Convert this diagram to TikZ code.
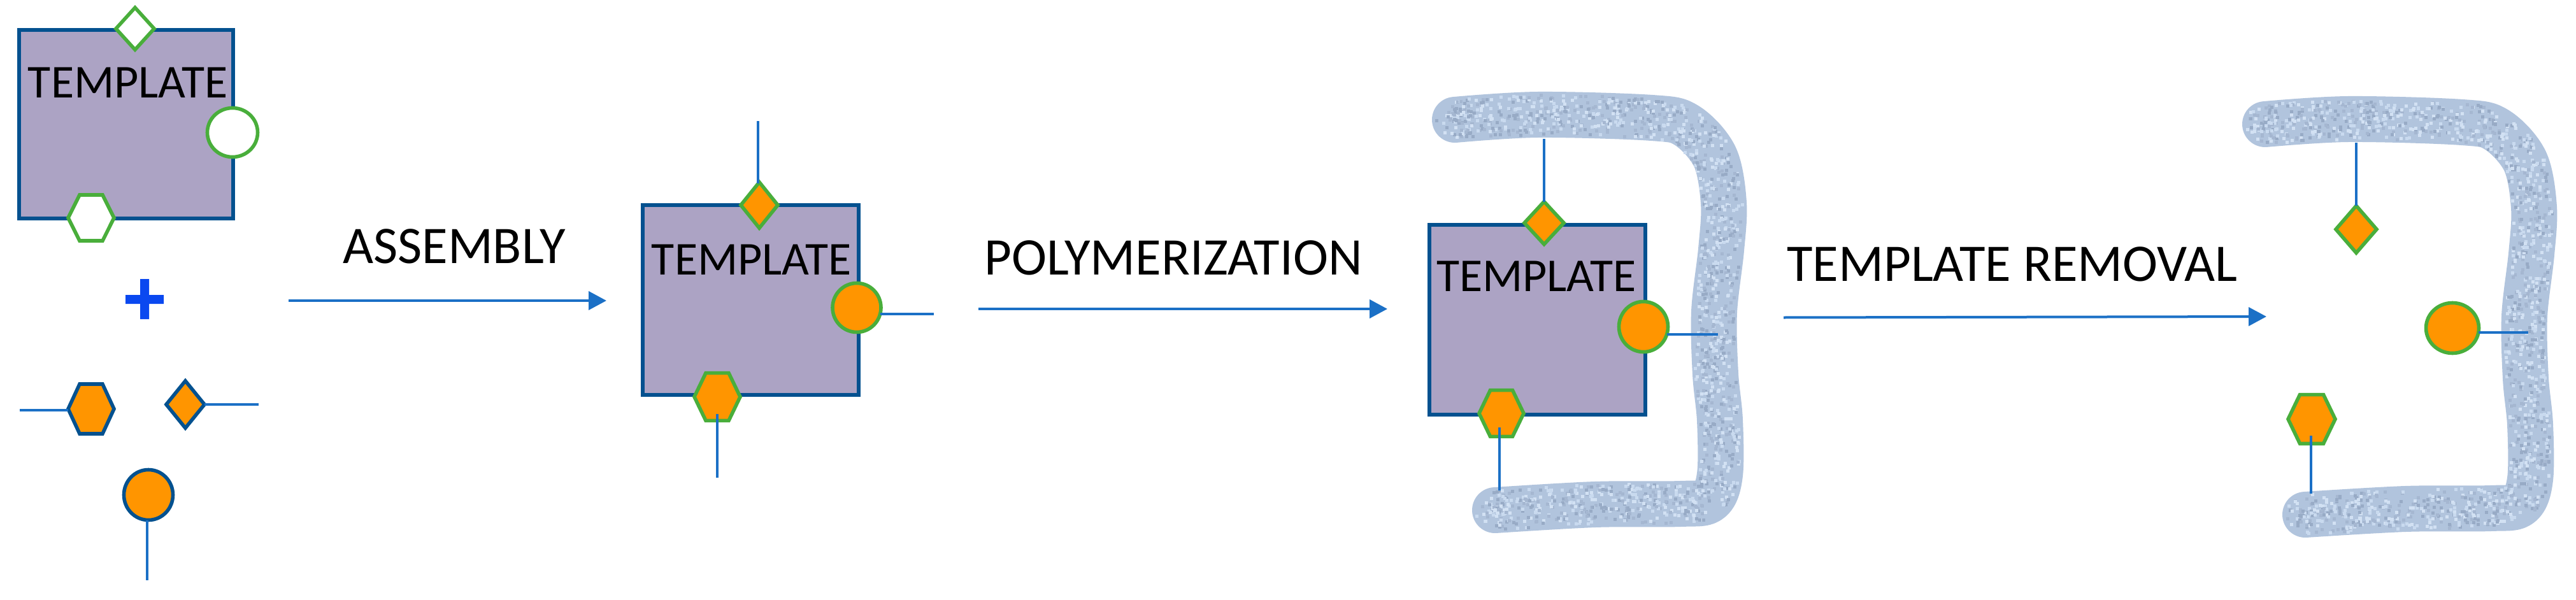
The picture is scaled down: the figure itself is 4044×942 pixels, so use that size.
\documentclass[tikz,border=0pt]{standalone}
\usepackage{fontspec}
\setmainfont{Carlito}
\usetikzlibrary{shapes.geometric,arrows.meta}
\definecolor{tplfill}{HTML}{ACA3C4}
\definecolor{deepblue}{HTML}{04518F}
\definecolor{ringgreen}{HTML}{49AE3B}
\definecolor{monoorange}{HTML}{FF9500}
\definecolor{linkblue}{HTML}{1B70C6}
\definecolor{plusblue}{HTML}{0A48F0}
\definecolor{polybase}{HTML}{B1C4DD}
\definecolor{grainA}{HTML}{98ABC6}
\definecolor{grainB}{HTML}{C9DAEF}
\definecolor{grainC}{HTML}{A5B7D1}
\definecolor{grainD}{HTML}{D2E1F3}
\tikzset{
  tplbox/.style={rectangle,draw=deepblue,fill=tplfill,line width=3pt,inner sep=0pt,outer sep=0pt},
  tpltext/.style={anchor=base,inner sep=0pt,font=\fontsize{37pt}{42pt}\selectfont},
  steplabel/.style={anchor=base,inner sep=0pt,font=\fontsize{41.5pt}{48pt}\selectfont},
  stem/.style={draw=linkblue,line width=2pt},
  stepflow/.style={draw=linkblue,line width=2pt,-{Triangle[length=14pt,width=14.5pt]}},
  greenring/.style={draw=ringgreen,line width=2.8pt,inner sep=0pt,outer sep=0pt},
  bluering/.style={draw=deepblue,line width=2.8pt,inner sep=0pt,outer sep=0pt},
  dia/.style={diamond,inner sep=0pt,outer sep=0pt},
  oval/.style={ellipse,inner sep=0pt,outer sep=0pt},
  hexa/.style={regular polygon,regular polygon sides=6,inner sep=0pt,outer sep=0pt},
  polymer/.style={draw=polybase,line width=36pt,line cap=round,line join=round}
}
\newcommand{\grainsquare}[2]{%
  \pgfmathtruncatemacro\gc{random(0,3)}%
  \ifcase\gc\relax\def\gcol{grainA}\or\def\gcol{grainB}\or\def\gcol{grainC}\or\def\gcol{grainD}\fi
  \fill[\gcol] (#1,#2) rectangle ++(5,5);%
}
\newcommand{\polyshell}{%
  \draw[polymer] plot[smooth,tension=0.55] coordinates {(2284,188) (2414,180) (2593,185) (2648,197) (2692,246) (2706,319) (2702,392) (2691,490) (2693,587) (2700,660) (2700,745) (2684,785) (2638,791) (2504,792) (2347,801)};
  \foreach \x/\y [remember=\x as \lx (initially 2284), remember=\y as \ly (initially 188)] in {2414/180,2593/185,2648/197,2692/246,2706/319,2702/392,2691/490,2693/587,2700/660,2700/745,2684/785,2638/791,2504/792,2347/801}{
    \pgfmathsetmacro\dxx{\x-\lx}
    \pgfmathsetmacro\dyy{\y-\ly}
    \pgfmathsetmacro\len{veclen(\dxx,\dyy)}
    \pgfmathtruncatemacro\cnt{\len*1.1+1}
    \foreach \i in {1,...,\cnt}{
      \pgfmathsetmacro\tt{rnd}
      \pgfmathsetmacro\nn{rand*31}
      \pgfmathsetmacro\px{\lx+\tt*\dxx-\nn*\dyy/\len-2.5}
      \pgfmathsetmacro\py{\ly+\tt*\dyy+\nn*\dxx/\len-2.5}
      \grainsquare{\px}{\py}
    }
  }
  \foreach \cx/\cy in {2284/188,2347/801}{
    \foreach \k in {1,...,50}{
      \pgfmathsetmacro\ga{rand*180}
      \pgfmathsetmacro\gr{rnd*30}
      \pgfmathsetmacro\px{\cx+\gr*cos(\ga)-2.5}
      \pgfmathsetmacro\py{\cy+\gr*sin(\ga)-2.5}
      \grainsquare{\px}{\py}
    }
  }%
}
\begin{document}
\begin{tikzpicture}[x=0.5pt,y=-0.5pt]
\pgfmathsetseed{4242}
\useasboundingbox (0,0) rectangle (4044,942);
\fill[white] (0,0) rectangle (4044,942);

% --- reactants ---
\node[tplbox,minimum width=168pt,minimum height=148pt] (tA) at (198,195) {};
\node[tpltext] (tAt) at (201,153) {TEMPLATE};
\node[dia,greenring,fill=white,minimum width=30pt,minimum height=33pt] (sA) at (212,45) {};
\node[oval,greenring,fill=white,minimum width=39.5pt,minimum height=38.5pt] (cA) at (365,208) {};
\node[hexa,greenring,fill=white,minimum size=36pt,yscale=1.155] (hA) at (143,342) {};
\fill[plusblue] (197,463) rectangle (257,477) (220,438) rectangle (234,501);

\node[hexa,bluering,fill=monoorange,minimum size=36pt,yscale=1.25] (hB) at (143,642) {};
\node[dia,bluering,fill=monoorange,minimum width=30pt,minimum height=37pt] (sB) at (291,635) {};
\node[oval,bluering,fill=monoorange,minimum width=38.5pt,minimum height=39.5pt] (cB) at (233,777) {};
\coordinate (hBe) at (31,644);
\coordinate (sBe) at (406,635);
\coordinate (cBe) at (231,911);
\draw[stem] (hB.west |- hBe) -- (hBe);
\draw[stem] (sB.east) -- (sBe);
\draw[stem] (cB.south -| cBe) -- (cBe);

% --- arrow 1 ---
\coordinate (a1s) at (453,472);
\coordinate (a1e) at (952,472);
\draw[stepflow] (a1s) -- (a1e);
\node[steplabel] (l1) at (713,413) {ASSEMBLY};

% --- assembled complex ---
\node[tplbox,minimum width=169.5pt,minimum height=149pt] (tC) at (1178.5,471) {};
\node[tpltext] (tCt) at (1180,431) {TEMPLATE};
\node[dia,greenring,fill=monoorange,minimum width=29pt,minimum height=36pt] (sC) at (1192,322) {};
\node[oval,greenring,fill=monoorange,minimum width=38pt,minimum height=38.5pt] (cC) at (1345,483) {};
\node[hexa,greenring,fill=monoorange,minimum size=36pt,yscale=1.2] (hC) at (1126,623) {};
\coordinate (sCe) at (1190,190);
\coordinate (cCe) at (1466,494);
\coordinate (hCe) at (1126,750);
\draw[stem] ([xshift=-1pt,yshift=-1pt]sC.north) -- (sCe);
\draw[stem] (cC.-16) -- (cC.-16 -| cCe);
\draw[stem] ([yshift=5pt]hC.south) -- (hCe);

% --- arrow 2 ---
\coordinate (a2s) at (1536,485);
\coordinate (a2e) at (2178,485);
\draw[stepflow] (a2s) -- (a2e);
\node[steplabel] (l2) at (1842,431) {POLYMERIZATION};

% --- polymerised ---
\polyshell
\node[tplbox,minimum width=169.5pt,minimum height=149pt] (tD) at (2413.5,502) {};
\node[tpltext] (tDt) at (2412,457) {TEMPLATE};
\node[dia,greenring,fill=monoorange,minimum width=31pt,minimum height=33.5pt] (sD) at (2424,350) {};
\node[oval,greenring,fill=monoorange,minimum width=38.5pt,minimum height=39.5pt] (cD) at (2580,513) {};
\node[hexa,greenring,fill=monoorange,minimum size=35pt,yscale=1.2] (hD) at (2357,649) {};
\coordinate (sDe) at (2424,218);
\coordinate (cDe) at (2697,500);
\coordinate (hDe) at (2354,770);
\draw[stem] (sD.north) -- (sDe);
\draw[stem] (cD.-18) -- (cD.-18 -| cDe);
\draw[stem] ([xshift=-1.5pt,yshift=7pt]hD.south) -- (hDe);

% --- arrow 3 ---
\coordinate (a3s) at (2800,498.5);
\coordinate (a3e) at (3558,497);
\draw[stepflow] (a3s) -- (a3e);
\node[steplabel] (l3) at (3159,441) {TEMPLATE REMOVAL};

% --- imprinted ---
\begin{scope}[shift={(1272,7)}]
\polyshell
\end{scope}
\node[dia,greenring,fill=monoorange,minimum width=32pt,minimum height=37pt] (sE) at (3699,360) {};
\node[oval,greenring,fill=monoorange,minimum width=41.5pt,minimum height=39.5pt] (cE) at (3850,515) {};
\node[hexa,greenring,fill=monoorange,minimum size=37pt,yscale=1.2] (hE) at (3629,658) {};
\coordinate (sEe) at (3699,224);
\coordinate (cEe) at (3969,508);
\coordinate (hEe) at (3628,775);
\draw[stem] (sE.north) -- (sEe);
\draw[stem] (cE.-10) -- (cE.-10 -| cEe);
\draw[stem] ([xshift=-0.5pt,yshift=6pt]hE.south) -- (hEe);
\end{tikzpicture}
\end{document}
